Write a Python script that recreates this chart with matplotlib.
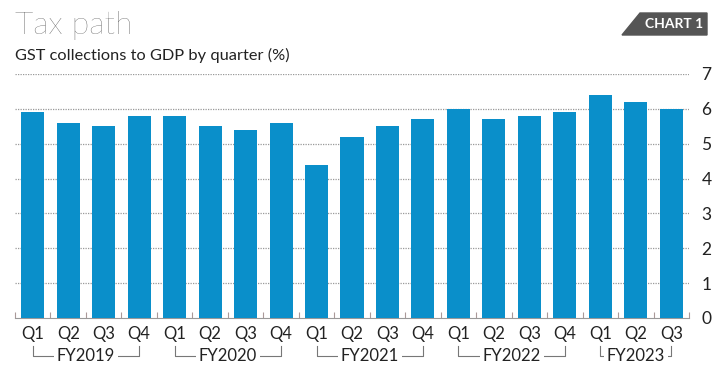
import matplotlib
matplotlib.use('Agg')
import matplotlib.pyplot as plt
from matplotlib.patches import Polygon
import numpy as np

# GST collections to GDP by quarter (%)
quarters = ['Q1', 'Q2', 'Q3', 'Q4'] * 4 + ['Q1', 'Q2', 'Q3']
values = [5.9, 5.6, 5.5, 5.8,
          5.8, 5.5, 5.4, 5.6,
          4.4, 5.2, 5.5, 5.7,
          6.0, 5.7, 5.8, 5.9,
          6.4, 6.2, 6.0]
fiscal_years = ['FY2019', 'FY2020', 'FY2021', 'FY2022', 'FY2023']
fy_counts = [4, 4, 4, 4, 3]

BLUE = '#0a8fca'
plt.rcParams['font.family'] = ['Lato', 'DejaVu Sans']

W, H = 726, 377
fig = plt.figure(figsize=(W / 100, H / 100), dpi=100)
ax = fig.add_axes([15 / W, (H - 318) / H, (689 - 15) / W, (318 - 74) / H])

x = np.arange(len(values))
ax.bar(x, values, width=0.65, color=BLUE, zorder=3)

ax.set_xlim(-0.5, len(values) - 0.5)
ax.set_ylim(0, 7)

# dotted gridlines
for v in range(1, 8):
    ax.axhline(v, color='#999999', lw=0.9, ls=(0, (1, 1)), zorder=1)

for s in ['top', 'left', 'right']:
    ax.spines[s].set_visible(False)
ax.spines['bottom'].set_color('#999999')
ax.spines['bottom'].set_linewidth(0.8)

ax.yaxis.tick_right()
ax.set_yticks(range(0, 8))
ax.tick_params(axis='y', length=0, pad=9, labelsize=12.5, labelcolor='#222222')

ax.set_xticks(x)
ax.set_xticklabels(quarters)
ax.tick_params(axis='x', length=0, pad=6, labelsize=12, labelcolor='#222222')
ax.set_xticks(np.arange(-0.5, len(values)), minor=True)
ax.tick_params(axis='x', which='minor', direction='in', length=4, color='#aa9999', width=0.8)

# fiscal year brackets
tr = ax.get_xaxis_transform()
start = 0
for fy, n in zip(fiscal_years, fy_counts):
    x0, x1 = start, start + n - 1
    mid = (x0 + x1) / 2
    yb = -0.155
    ax.plot([x0, x0, x1, x1], [yb + 0.04, yb, yb, yb + 0.04], transform=tr,
            color='#777777', lw=0.8, clip_on=False)
    ax.text(mid, yb, fy, transform=tr, ha='center', va='center',
            fontsize=12, color='#222222',
            bbox=dict(fc='white', ec='none', pad=2))
    start += n

# titles
fig.text(15 / W, 1 - 34 / H, 'Tax path', fontsize=23, fontweight='light',
         color='#444444', ha='left', va='baseline')
fig.text(15 / W, 1 - 60 / H, 'GST collections to GDP by quarter (%)',
         fontsize=11.8, color='#222222', ha='left', va='baseline')

# chart badge
badge = Polygon([(622 / W, 1 - 35 / H), (640 / W, 1 - 13 / H),
                 (707 / W, 1 - 13 / H), (707 / W, 1 - 35 / H)],
                closed=True, transform=fig.transFigure, color='#555555')
fig.patches.append(badge)
fig.text(703 / W, 1 - 24.5 / H, 'CHART 1', fontsize=10, fontweight='bold',
         color='white', ha='right', va='center')

fig.savefig('out.png', dpi=100)
